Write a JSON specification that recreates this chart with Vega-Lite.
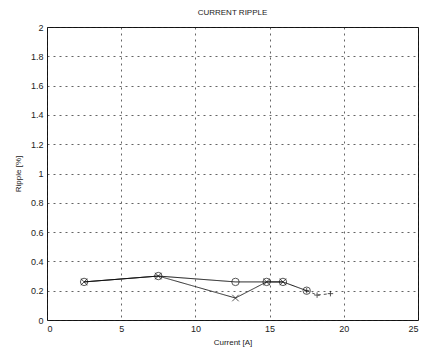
{
  "$schema": "https://vega.github.io/schema/vega-lite/v6.json",
  "width": 371,
  "height": 293,
  "autosize": {"type": "none"},
  "padding": {"left": 47, "top": 27, "right": 10, "bottom": 31},
  "background": "white",
  "title": {"text": "CURRENT RIPPLE", "fontSize": 8, "font": "Liberation Sans", "fontWeight": "normal", "color": "#222", "offset": 6},
  "config": {
    "view": {"stroke": "#111", "strokeWidth": 1},
    "axis": {
      "labelFont": "Liberation Sans", "labelFontSize": 9, "labelColor": "#222",
      "titleFont": "Liberation Sans", "titleFontSize": 8, "titleFontWeight": "normal", "titleColor": "#222",
      "grid": true, "gridColor": "#222", "gridDash": [2, 4], "gridWidth": 1, "gridOpacity": 0.7,
      "domain": false, "ticks": false, "labelPadding": 4
    }
  },
  "data": {"values": [
    {"series": "A", "current": 2.5, "ripple": 0.26},
    {"series": "A", "current": 7.5, "ripple": 0.30},
    {"series": "A", "current": 12.7, "ripple": 0.26},
    {"series": "A", "current": 14.8, "ripple": 0.26},
    {"series": "A", "current": 15.9, "ripple": 0.26},
    {"series": "A", "current": 17.5, "ripple": 0.20},
    {"series": "B", "current": 2.5, "ripple": 0.26},
    {"series": "B", "current": 7.5, "ripple": 0.30},
    {"series": "B", "current": 12.7, "ripple": 0.15},
    {"series": "B", "current": 14.8, "ripple": 0.26},
    {"series": "B", "current": 15.9, "ripple": 0.26},
    {"series": "C", "current": 17.5, "ripple": 0.20},
    {"series": "C", "current": 18.2, "ripple": 0.17},
    {"series": "C", "current": 19.1, "ripple": 0.18}
  ]},
  "encoding": {
    "x": {"field": "current", "type": "quantitative", "scale": {"domain": [0, 25], "nice": false},
          "axis": {"title": "Current [A]", "values": [0, 5, 10, 15, 20, 25], "titlePadding": 5}},
    "y": {"field": "ripple", "type": "quantitative", "scale": {"domain": [0, 2], "nice": false},
          "axis": {"title": "Ripple [%]", "values": [0, 0.2, 0.4, 0.6, 0.8, 1, 1.2, 1.4, 1.6, 1.8, 2], "format": "~g", "titlePadding": 8}}
  },
  "layer": [
    {
      "mark": {"type": "line", "color": "#111", "strokeWidth": 1},
      "encoding": {
        "detail": {"field": "series", "type": "nominal"},
        "strokeDash": {"field": "series", "type": "nominal", "legend": null,
                       "scale": {"domain": ["A", "B", "C"], "range": [[1, 0], [1, 0], [3, 3]]}},
        "opacity": {"field": "series", "type": "nominal", "legend": null,
                    "scale": {"domain": ["A", "B", "C"], "range": [1, 0.75, 0.8]}}
      }
    },
    {
      "mark": {"type": "point", "filled": false, "color": "#111", "strokeWidth": 1},
      "encoding": {
        "shape": {"field": "series", "type": "nominal", "legend": null,
                  "scale": {"domain": ["A", "B", "C"], "range": ["circle", "M-1,-1L1,1M-1,1L1,-1", "M-1,0L1,0M0,-1L0,1"]}},
        "size": {"field": "series", "type": "nominal", "legend": null,
                 "scale": {"domain": ["A", "B", "C"], "range": [55, 30, 35]}}
      }
    }
  ]
}
